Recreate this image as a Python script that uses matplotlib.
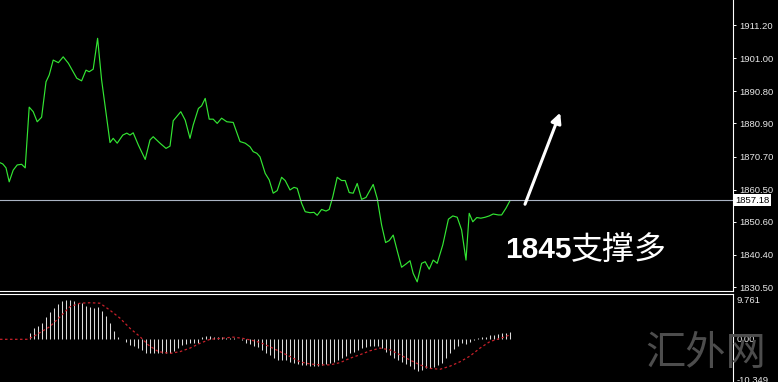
import numpy as np
import matplotlib
matplotlib.use("Agg")
import matplotlib.pyplot as plt
import matplotlib.transforms as mtransforms

# price closes (bar position, price)
bar_pos = [0, 0.7, 1.5, 2.3, 3.3, 4.3, 5.4, 6.3, 7.3, 8.3, 9.3, 10.4, 11.5, 12.3, 13.3,
           14.6, 15.8, 17.1, 19.2, 20.4, 21.5, 22.3, 23.3, 24.4, 25.4, 27.5, 28.3, 29.3,
           30.7, 31.7, 32.5, 33.3, 34.6, 36.3, 37.5, 38.3, 40.0, 41.5, 42.5, 43.3, 45.2,
           46.3, 47.5, 48.3, 49.6, 50.4, 51.3, 52.3, 53.3, 54.3, 55.4, 56.7, 58.3, 60.0,
           61.3, 62.5, 63.3, 64.2, 65.0, 66.3, 67.3, 68.3, 69.3, 70.4, 71.3, 72.5, 73.5,
           74.3, 75.4, 76.3, 77.5, 78.5, 79.3, 80.4, 81.5, 82.3, 83.2, 84.3, 85.4, 86.3,
           87.3, 88.3, 89.3, 90.4, 91.5, 93.3, 94.3, 95.4, 96.4, 97.3, 98.3, 99.3, 100.4,
           101.5, 102.5, 103.3, 104.3, 105.4, 106.3, 107.3, 108.3, 109.3, 110.7, 112.1,
           113.2, 114.3, 115.4, 116.5, 117.3, 118.2, 119.2, 120.2, 121.3, 122.3, 123.3,
           124.6, 125.4, 126.5, 127.5]
close = [1868.8, 1868.4, 1867.2, 1862.9, 1866.5, 1868.1, 1868.3, 1867.2, 1885.9, 1884.5,
         1881.4, 1882.8, 1893.7, 1895.8, 1900.4, 1899.6, 1901.4, 1899.4, 1894.8, 1894.0,
         1897.3, 1896.8, 1897.6, 1907.1, 1894.3, 1875.0, 1876.3, 1874.8, 1877.3, 1877.9,
         1877.3, 1878.0, 1874.2, 1869.8, 1875.8, 1876.8, 1874.8, 1873.2, 1873.9, 1881.7,
         1884.5, 1881.9, 1876.3, 1880.4, 1885.5, 1886.3, 1888.6, 1882.2, 1882.2, 1880.9,
         1882.5, 1881.4, 1881.2, 1875.3, 1874.8, 1873.7, 1872.2, 1871.7, 1870.6, 1865.5,
         1863.5, 1859.4, 1860.2, 1864.3, 1863.3, 1860.4, 1861.2, 1860.9, 1856.3, 1853.7,
         1853.4, 1853.5, 1852.6, 1854.4, 1853.9, 1854.4, 1858.3, 1864.3, 1863.3, 1863.3,
         1859.6, 1859.4, 1862.4, 1857.5, 1858.1, 1862.1, 1857.8, 1849.6, 1844.2, 1844.8,
         1846.5, 1841.7, 1836.6, 1837.6, 1838.6, 1834.7, 1832.1, 1837.8, 1838.3, 1836.0,
         1838.8, 1837.8, 1843.5, 1851.4, 1852.4, 1852.0, 1848.1, 1838.8, 1853.2, 1850.6,
         1851.9, 1851.7, 1852.0, 1852.4, 1853.0, 1852.7, 1852.7, 1854.8, 1857.1]
last_price = 1857.18
price_ticks = [1911.20, 1901.00, 1890.80, 1880.90, 1870.70, 1860.50, 1850.60, 1840.40, 1830.50]

# MACD histogram (one value per bar)
macd_hist = [0.15, 0.15, 0.15, 0.15, 0.15, 0.15, 0.15, 1.5, 2.5, 3.0, 3.6, 5.0, 6.1, 7.0,
             8.0, 8.6, 8.9, 8.9, 8.7, 8.2, 8.2, 7.6, 7.3, 7.0, 7.4, 6.5, 5.3, 3.6, 2.0, 0.6,
             0.1, -0.5, -1.3, -1.5, -2.0, -2.4, -3.2, -3.2, -3.0, -3.0, -3.2, -3.2, -3.0,
             -2.6, -2.0, -1.3, -1.1, -0.8, -0.8, -0.9, 0.6, 0.8, 0.8, 0.6, 0.5, 0.5, 0.4,
             0.4, 0.2, 0.0, -0.2, -0.8, -1.1, -1.5, -1.8, -2.4, -3.0, -3.6, -4.3, -4.7,
             -4.8, -4.8, -5.1, -5.3, -5.5, -5.8, -5.8, -6.1, -6.1, -6.1, -5.8, -5.6, -5.3,
             -5.1, -4.7, -4.3, -3.8, -3.2, -2.8, -2.4, -2.0, -1.7, -1.5, -1.5, -1.5, -2.0,
             -2.8, -3.6, -4.3, -4.7, -5.1, -5.5, -6.1, -6.8, -7.1, -7.0, -6.6, -6.4, -6.2,
             -5.8, -5.3, -4.3, -3.2, -2.3, -1.5, -0.9, -1.1, -0.5, -0.2, 0.2, 0.5, 0.6,
             1.0, 1.0, 1.2, 1.4, 1.5, 1.7]
# signal line (bar position, value)
sig_pos = [0, 6.7, 8.3, 12.5, 15, 17.5, 20, 22.5, 25, 27.5, 30, 32.5, 35, 37.1, 39.6, 42.5,
           45, 47.5, 50, 52.5, 55, 58.3, 60.8, 63.3, 65, 67.5, 70, 72.5, 75, 77.5, 80,
           82.5, 85, 87.5, 90, 92.5, 95, 97.5, 100, 102.5, 105, 107.5, 110, 112.5, 115,
           117.5, 120, 122.5, 125, 127.5]
sig_val = [0, 0, 0.6, 2.9, 5.1, 7.4, 8.2, 8.3, 8.2, 6.6, 4.8, 2.5, 0.6, -1.3, -2.8, -3.2,
           -2.8, -2.0, -0.9, 0.0, 0.2, 0.5, 0.2, -0.3, -0.7, -1.7, -2.8, -3.9, -5.1, -5.6,
           -5.8, -5.8, -5.3, -4.3, -3.5, -2.6, -2.0, -2.4, -3.5, -4.7, -5.8, -6.6, -6.8,
           -6.1, -5.1, -3.8, -2.0, -0.5, 0.2, 1.0]
macd_max, macd_min = 9.761, -10.349

W, H = 778, 382
fig = plt.figure(figsize=(W / 100, H / 100), dpi=100, facecolor="black")
axw = 733 / W
ax = fig.add_axes([0, 1 - 291 / H, axw, 291 / H], facecolor="black")
ax2 = fig.add_axes([0, 0, axw, 1 - 293.5 / H], facecolor="black")

lab_font = dict(family="Liberation Sans", size=6.8, color="#e8e8e8")

# main price panel
ax.plot(bar_pos, close, color="#33e633", lw=0.85)
ax.axhline(last_price, color="#aab4c4", lw=0.8)
ax.set_xlim(0, 733 / 4)
ax.set_ylim(1829.28, 1918.9)
ax.set_xticks([])
ax.yaxis.tick_right()
ax.set_yticks(price_ticks)
ax.set_yticklabels([f"{v:.2f}" for v in price_ticks])
ax.tick_params(axis="y", colors="white", length=2.5, width=0.7, pad=2)
for t in ax.get_yticklabels():
    t.set_fontfamily("Liberation Sans")
    t.set_fontsize(6.8)
    t.set_color("#e8e8e8")
for s in ["left", "top"]:
    ax.spines[s].set_visible(False)
for s in ["right", "bottom"]:
    ax.spines[s].set_color("white")
    ax.spines[s].set_linewidth(0.8)

trans = mtransforms.blended_transform_factory(ax.transAxes, ax.transData)
ax.text(1.003, last_price, f"{last_price:.2f}", transform=trans, va="center", ha="left",
        fontfamily="Liberation Sans", fontsize=6.8, color="black", clip_on=False,
        bbox=dict(boxstyle="square,pad=0.15", facecolor="white", edgecolor="none"))

# annotation
ax.annotate("", xy=(140.3, 1885.0), xytext=(131.0, 1855.2),
            arrowprops=dict(arrowstyle="-|>,head_length=0.6,head_width=0.3",
                            color="white", lw=2.2))
ax.text(126.2, 1841.8, "1845", fontfamily="Liberation Sans", fontweight="bold",
        fontsize=21.5, color="white", va="center", ha="left")
ax.text(142.8, 1841.8, "支撑多", fontfamily=["Noto Sans CJK SC", "DejaVu Sans"],
        fontsize=23, color="white", va="center", ha="left")

# MACD panel
hist_x = np.arange(len(macd_hist)) + 0.4
ax2.vlines(hist_x, 0, macd_hist, color="#dcdcdc", lw=0.75)
ax2.plot(sig_pos, sig_val, color="#c8202a", lw=0.9, ls=(0, (2, 2)))
ax2.set_xlim(0, 733 / 4)
ax2.set_ylim(-9.69, 10.4)
ax2.set_xticks([])
ax2.set_yticks([])
for s in ["left", "bottom"]:
    ax2.spines[s].set_visible(False)
for s in ["right", "top"]:
    ax2.spines[s].set_color("white")
    ax2.spines[s].set_linewidth(0.8)
trans2 = mtransforms.blended_transform_factory(ax2.transAxes, ax2.transData)
ax2.text(1.005, macd_max, f"{macd_max:.3f}", transform=trans2, va="top", ha="left",
         clip_on=False, **lab_font)
ax2.text(1.005, 0, "0.00", transform=trans2, va="center", ha="left", clip_on=False,
         **lab_font)
ax2.text(1.005, macd_min, f"{macd_min:.3f}", transform=trans2, va="bottom", ha="left",
         clip_on=False, **lab_font)

# watermark
fig.text(645 / W, 1 - 353 / H, "汇外网", fontfamily=["Noto Sans CJK SC", "DejaVu Sans"],
         fontsize=29, color="#4d4d4d", va="center", ha="left", zorder=0)

fig.savefig("out.png", dpi=100, facecolor="black")
